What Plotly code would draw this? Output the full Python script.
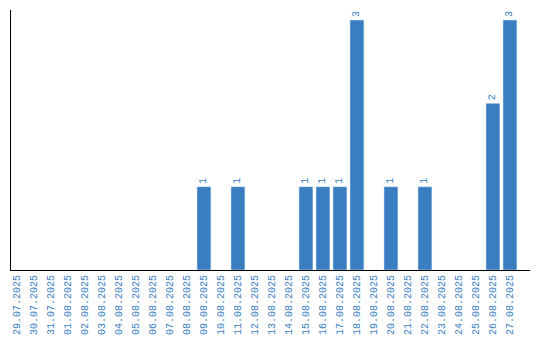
import plotly.graph_objects as go

dates = ["29.07.2025", "30.07.2025", "31.07.2025", "01.08.2025", "02.08.2025", "03.08.2025",
         "04.08.2025", "05.08.2025", "06.08.2025", "07.08.2025", "08.08.2025", "09.08.2025",
         "10.08.2025", "11.08.2025", "12.08.2025", "13.08.2025", "14.08.2025", "15.08.2025",
         "16.08.2025", "17.08.2025", "18.08.2025", "19.08.2025", "20.08.2025", "21.08.2025",
         "22.08.2025", "23.08.2025", "24.08.2025", "25.08.2025", "26.08.2025", "27.08.2025"]
counts = [0, 0, 0, 0, 0, 0, 0, 0, 0, 0, 0, 1, 0, 1, 0, 0, 0, 1, 1, 1, 3, 0, 1, 0, 1, 0, 0, 0, 2, 3]

labels = [str(v) if v > 0 else "" for v in counts]
blue = "#3a7ec2"
font_family = "Liberation Mono"

fig = go.Figure(go.Bar(
    x=dates, y=counts, marker_color=blue, text=labels,
    textposition="outside", textangle=-90, cliponaxis=False,
    textfont=dict(family=font_family, size=10, color=blue),
))
fig.update_layout(
    width=540, height=340, margin=dict(l=11, r=10, t=10, b=70, autoexpand=False),
    plot_bgcolor="white", paper_bgcolor="white", showlegend=False, bargap=0.18,
)
fig.update_xaxes(type="category", range=[-0.35, 30.18], tickangle=-90, automargin=False,
                 tickfont=dict(family=font_family, size=10, color=blue),
                 showline=True, linecolor="black", linewidth=1, ticks="", showgrid=False)
fig.update_yaxes(range=[0, 3.12], showticklabels=False, showgrid=False, zeroline=False,
                 automargin=False,
                 showline=True, linecolor="black", linewidth=1, ticks="")
fig.write_html("out.html")
